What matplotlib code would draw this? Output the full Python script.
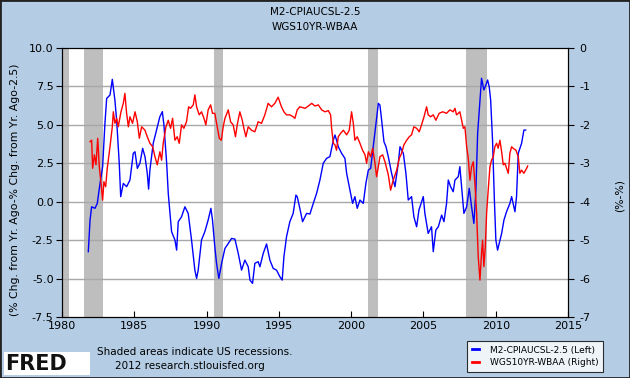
import matplotlib
matplotlib.use('Agg')
from matplotlib import pyplot as plt
from matplotlib.patches import Rectangle
from matplotlib.lines import Line2D

# M2-CPIAUCSL-2.5 (left axis)
m2_years = [1981.82, 1981.94, 1982.05, 1982.28, 1982.44, 1982.63, 1982.81, 1982.97, 1983.09, 1983.32,
            1983.48, 1983.66, 1983.78, 1983.96, 1984.06, 1984.24, 1984.47, 1984.70, 1984.93, 1985.05,
            1985.21, 1985.39, 1985.58, 1985.74, 1985.90, 1985.99, 1986.08, 1986.31, 1986.54, 1986.77,
            1986.94, 1987.05, 1987.24, 1987.35, 1987.58, 1987.81, 1987.93, 1988.04, 1988.27, 1988.50,
            1988.73, 1988.96, 1989.19, 1989.31, 1989.42, 1989.65, 1989.88, 1990.11, 1990.30, 1990.41,
            1990.57, 1990.69, 1990.85, 1991.04, 1991.27, 1991.50, 1991.73, 1991.96, 1992.19, 1992.42,
            1992.65, 1992.88, 1993.00, 1993.18, 1993.34, 1993.57, 1993.69, 1993.92, 1994.15, 1994.38,
            1994.61, 1994.84, 1995.07, 1995.23, 1995.35, 1995.53, 1995.76, 1995.99, 1996.18, 1996.27,
            1996.45, 1996.64, 1996.92, 1997.15, 1997.38, 1997.61, 1997.84, 1998.07, 1998.30, 1998.53,
            1998.77, 1998.88, 1998.99, 1999.11, 1999.34, 1999.57, 1999.69, 1999.92, 2000.10, 2000.26,
            2000.42, 2000.61, 2000.84, 2001.02, 2001.19, 2001.35, 2001.53, 2001.72, 2001.88, 2001.99,
            2002.11, 2002.27, 2002.41, 2002.57, 2002.80, 2003.03, 2003.26, 2003.38, 2003.61, 2003.79,
            2003.95, 2004.18, 2004.34, 2004.53, 2004.69, 2004.99, 2005.10, 2005.33, 2005.56, 2005.68,
            2005.86, 2006.03, 2006.26, 2006.42, 2006.60, 2006.72, 2006.88, 2007.06, 2007.18, 2007.41,
            2007.52, 2007.64, 2007.80, 2007.99, 2008.17, 2008.33, 2008.49, 2008.63, 2008.75, 2008.91,
            2009.02, 2009.18, 2009.32, 2009.44, 2009.55, 2009.65, 2009.78, 2009.90, 2010.01, 2010.13,
            2010.24, 2010.41, 2010.57, 2010.75, 2010.98, 2011.10, 2011.33, 2011.44, 2011.56, 2011.79,
            2011.95, 2012.07]
m2_values = [-3.25, -1.19, -0.33, -0.43, -0.11, 1.19, 2.28, 5.10, 6.72, 6.94,
             7.96, 6.60, 5.30, 2.50, 0.33, 1.19, 0.98, 1.41, 3.15, 3.25,
             2.17, 2.50, 3.47, 2.93, 1.84, 0.82, 2.06, 3.80, 4.66, 5.53,
             5.86, 4.99, 2.50, 0.54, -1.95, -2.49, -3.15, -1.30, -0.98, -0.33,
             -0.76, -2.49, -4.45, -4.99, -4.45, -2.49, -1.95, -1.19, -0.43, -1.19,
             -2.93, -4.01, -4.99, -4.01, -3.04, -2.71, -2.39, -2.43, -3.36, -4.45,
             -3.80, -4.23, -5.10, -5.31, -4.01, -3.90, -4.23, -3.36, -2.75, -3.80,
             -4.34, -4.45, -4.88, -5.10, -3.58, -2.28, -1.30, -0.76, 0.43, 0.33,
             -0.43, -1.30, -0.76, -0.80, -0.11, 0.54, 1.41, 2.50, 2.82, 2.93,
             4.01, 4.34, 4.01, 3.58, 3.15, 2.82, 1.84, 0.76, -0.11, 0.33,
             -0.43, 0.11, -0.11, 1.19, 2.06, 2.17, 3.58, 5.10, 6.40, 6.29,
             5.31, 3.90, 3.58, 2.93, 1.84, 0.98, 2.50, 3.58, 3.15, 1.84,
             0.11, 0.33, -0.98, -1.63, -0.54, 0.33, -0.76, -2.06, -1.63, -3.25,
             -1.84, -1.63, -0.87, -1.30, -0.11, 1.41, 0.98, 0.65, 1.41, 1.63,
             2.28, 0.98, -0.76, -0.33, 0.87, -0.33, -1.41, 0.76, 4.45, 6.62,
             8.03, 7.27, 7.59, 7.92, 7.48, 6.62, 4.01, 0.33, -2.49, -3.15,
             -2.71, -2.06, -1.19, -0.65, -0.11, 0.33, -0.65, 0.33, 3.15, 3.80,
             4.66, 4.66]

# WGS10YR-WBAA (right axis)
spread_years = [1981.94, 1982.05, 1982.12, 1982.24, 1982.35, 1982.47, 1982.58, 1982.70, 1982.81, 1982.90,
                1983.02, 1983.13, 1983.32, 1983.48, 1983.55, 1983.66, 1983.78, 1983.89, 1984.08, 1984.24,
                1984.35, 1984.47, 1984.59, 1984.70, 1984.88, 1985.05, 1985.21, 1985.35, 1985.51, 1985.74,
                1985.90, 1986.08, 1986.27, 1986.43, 1986.59, 1986.77, 1986.89, 1987.00, 1987.19, 1987.35,
                1987.51, 1987.65, 1987.81, 1987.97, 1988.11, 1988.27, 1988.43, 1988.61, 1988.76, 1988.89,
                1989.08, 1989.19, 1989.31, 1989.49, 1989.65, 1989.82, 1989.95, 1990.11, 1990.28, 1990.41,
                1990.57, 1990.74, 1990.88, 1991.02, 1991.15, 1991.27, 1991.50, 1991.66, 1991.84, 1992.00,
                1992.12, 1992.30, 1992.47, 1992.58, 1992.72, 1992.88, 1993.11, 1993.34, 1993.57, 1993.80,
                1994.03, 1994.26, 1994.49, 1994.72, 1994.95, 1995.18, 1995.35, 1995.53, 1995.76, 1995.99,
                1996.11, 1996.27, 1996.45, 1996.81, 1997.04, 1997.27, 1997.50, 1997.73, 1997.96, 1998.19,
                1998.42, 1998.58, 1998.65, 1998.77, 1998.88, 1998.99, 1999.11, 1999.27, 1999.46, 1999.69,
                1999.87, 2000.03, 2000.15, 2000.26, 2000.42, 2000.61, 2000.79, 2000.96, 2001.07, 2001.19,
                2001.35, 2001.49, 2001.65, 2001.76, 2001.88, 2001.99, 2002.18, 2002.34, 2002.57, 2002.73,
                2002.91, 2003.15, 2003.33, 2003.49, 2003.65, 2003.84, 2004.02, 2004.18, 2004.34, 2004.53,
                2004.71, 2004.87, 2005.04, 2005.22, 2005.33, 2005.50, 2005.68, 2005.86, 2006.09, 2006.33,
                2006.60, 2006.83, 2007.06, 2007.18, 2007.29, 2007.52, 2007.64, 2007.76, 2007.87, 2007.99,
                2008.10, 2008.22, 2008.33, 2008.45, 2008.56, 2008.68, 2008.79, 2008.91, 2009.02, 2009.09,
                2009.18, 2009.28, 2009.37, 2009.48, 2009.60, 2009.71, 2009.83, 2009.94, 2010.06, 2010.17,
                2010.29, 2010.41, 2010.52, 2010.64, 2010.75, 2010.87, 2010.98, 2011.10, 2011.21, 2011.40,
                2011.56, 2011.67, 2011.79, 2011.95, 2012.14, 2012.21]
spread_values = [-2.44, -2.40, -3.13, -2.78, -3.04, -2.35, -3.09, -3.52, -3.96, -3.48,
                 -3.61, -3.13, -2.57, -2.05, -1.66, -1.96, -1.83, -2.05, -1.66, -1.44,
                 -1.18, -1.70, -2.05, -1.79, -1.96, -1.66, -1.92, -2.35, -2.05, -2.14,
                 -2.31, -2.48, -2.57, -2.83, -3.04, -2.70, -2.92, -2.48, -2.05, -1.88,
                 -2.09, -1.83, -2.40, -2.31, -2.48, -2.00, -2.09, -1.92, -1.53, -1.57,
                 -1.48, -1.22, -1.53, -1.74, -1.66, -1.83, -2.00, -1.61, -1.48, -1.70,
                 -1.70, -2.05, -2.35, -2.40, -2.05, -1.83, -1.61, -1.92, -2.00, -2.31,
                 -2.00, -1.66, -1.88, -2.09, -2.31, -2.05, -2.14, -2.18, -1.92, -1.96,
                 -1.74, -1.44, -1.53, -1.44, -1.28, -1.53, -1.66, -1.74, -1.74, -1.79,
                 -1.83, -1.61, -1.53, -1.57, -1.51, -1.44, -1.51, -1.48, -1.61, -1.66,
                 -1.63, -1.74, -2.09, -2.48, -2.52, -2.66, -2.31, -2.22, -2.14, -2.26,
                 -2.14, -1.66, -1.96, -2.40, -2.31, -2.48, -2.66, -2.78, -3.00, -2.70,
                 -2.83, -2.61, -3.00, -3.35, -3.09, -2.83, -2.78, -2.96, -3.30, -3.70,
                 -3.44, -3.18, -2.87, -2.74, -2.52, -2.40, -2.31, -2.26, -2.05, -2.09,
                 -2.18, -2.00, -1.79, -1.53, -1.74, -1.79, -1.74, -1.88, -1.70, -1.66,
                 -1.70, -1.61, -1.66, -1.57, -1.74, -1.66, -1.88, -2.09, -2.05, -2.57,
                 -2.87, -3.44, -3.09, -2.96, -3.52, -4.30, -5.43, -6.04, -5.34, -5.00,
                 -5.69, -5.17, -4.30, -3.70, -3.09, -2.92, -2.83, -2.57, -2.48, -2.61,
                 -2.40, -2.70, -3.04, -3.00, -3.13, -3.26, -2.74, -2.57, -2.61, -2.66,
                 -2.83, -3.26, -3.18, -3.26, -3.13, -3.07]

recession_start = [1980.0, 1981.5, 1990.5, 2001.17, 2007.92]
recession_end = [1980.5, 1982.87, 1991.17, 2001.87, 2009.42]

left_ticks = [-7.5, -5.0, -2.5, 0.0, 2.5, 5.0, 7.5, 10.0]
right_ticks = [-7, -6, -5, -4, -3, -2, -1, 0]
year_ticks = [1980, 1985, 1990, 1995, 2000, 2005, 2010, 2015]
logo_trend = [0.2, 0.35, 0.3, 0.55, 0.5, 0.8, 0.7, 0.95]

BG = '#b4cde4'
plt.rcParams['font.family'] = 'DejaVu Sans'
plt.rcParams['axes.unicode_minus'] = False

fig = plt.figure(figsize=(6.3, 3.78), dpi=100, facecolor=BG)
ax = fig.add_axes([62/630, 1 - 317/378, 506/630, 269/378])
ax.set_facecolor('white')

for s, e in zip(recession_start, recession_end):
    ax.axvspan(s, e, color='#bebebe', lw=0, zorder=1)

for t in left_ticks[1:-1]:
    ax.axhline(t, color='#a8a8a8', lw=1, zorder=1.5)

ax.plot(m2_years, m2_values, color='#0000ff', lw=1, zorder=3)
ax.set_xlim(1980, 2015)
ax.set_ylim(-7.5, 10)
ax.set_yticks(left_ticks)
ax.set_yticklabels(['%.1f' % t for t in left_ticks])
ax.set_xticks(year_ticks)
ax.tick_params(axis='x', direction='in', length=4, labelsize=8, pad=3)
ax.tick_params(axis='y', direction='out', length=4, labelsize=8, pad=2)
for sp in ax.spines.values():
    sp.set_color('black')

ax2 = ax.twinx()
ax2.plot(spread_years, spread_values, color='#ff0000', lw=1, zorder=3)
ax2.set_ylim(-7, 0)
ax2.set_yticks(right_ticks)
ax2.tick_params(axis='y', direction='out', length=4, labelsize=8, pad=4)

# axis titles
fig.text(15/630, 1 - 190/378, '(% Chg. from Yr. Ago-% Chg. from Yr. Ago-2.5)', rotation=90,
         ha='center', va='center', fontsize=7.8)
fig.text(620/630, 1 - 195/378, '(%-%)', rotation=90, ha='center', va='center', fontsize=7.8)

fig.text(0.5, 1 - 12/378, 'M2-CPIAUCSL-2.5', ha='center', va='center', fontsize=7.5)
fig.text(0.5, 1 - 27/378, 'WGS10YR-WBAA', ha='center', va='center', fontsize=7.5)

fig.text(97/630, 1 - 352/378, 'Shaded areas indicate US recessions.', ha='left', va='center', fontsize=7.5)
fig.text(190/630, 1 - 366/378, '2012 research.stlouisfed.org', ha='center', va='center', fontsize=7.5)

# FRED logo
fig.patches.append(Rectangle((4/630, 1 - 375/378), 86/630, 23/378, transform=fig.transFigure,
                             facecolor='white', edgecolor='none'))
fig.text(5/630, 1 - 364/378, 'FRED', ha='left', va='center', fontsize=15, fontweight='heavy', color='#111111')
icon = fig.add_axes([71/630, 1 - 373/378, 17/630, 17/378])
icon.plot(range(len(logo_trend)), logo_trend, color='#5aa05a', lw=0.8)
icon.plot(range(len(logo_trend)), [v - 0.15 for v in logo_trend], color='#7aa0d0', lw=0.6)
icon.set_ylim(0, 1.1)
icon.set_facecolor('#f4f4f4')
icon.set_xticks([])
icon.set_yticks([])
for sp in icon.spines.values():
    sp.set_visible(False)

# legend
handles = [Line2D([], [], color='#0000ff', lw=2), Line2D([], [], color='#ff0000', lw=2)]
leg = fig.legend(handles, ['M2-CPIAUCSL-2.5 (Left)', 'WGS10YR-WBAA (Right)'],
                 loc='upper left', bbox_to_anchor=(467/630, 1 - 341/378), fontsize=6.5,
                 frameon=True, fancybox=False, handlelength=0.8, handletextpad=1.2,
                 borderpad=0.5, labelspacing=0.4, borderaxespad=0)
leg.get_frame().set_edgecolor('black')
leg.get_frame().set_linewidth(0.8)

fig.patches.append(Rectangle((0, 0), 1, 1, transform=fig.transFigure, facecolor='none',
                             edgecolor='#222222', lw=2))

fig.savefig('out.png', dpi=100, facecolor=BG)
